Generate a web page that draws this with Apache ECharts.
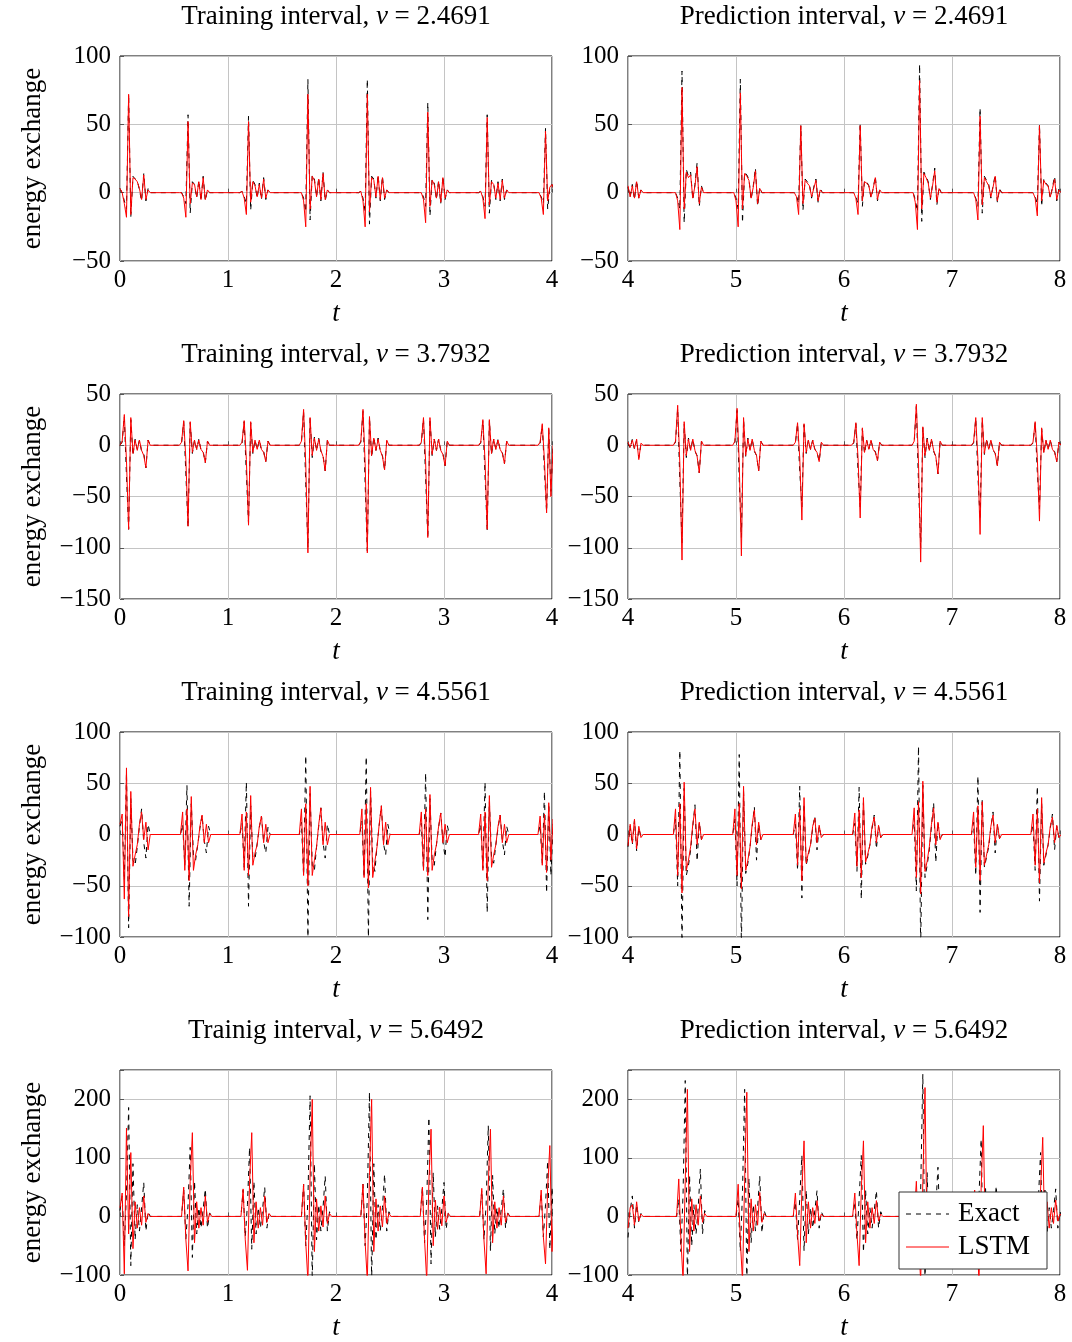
<!DOCTYPE html>
<html>
<head>
<meta charset="utf-8">
<script src="https://cdn.jsdelivr.net/npm/echarts@6/dist/echarts.min.js"></script>
<style>html,body{margin:0;padding:0;background:#fff}#c{width:1072px;height:1342px}</style>
</head>
<body>
<div id="c"></div>
<script>
// ---------- data ----------
const DT = 0.02; // sampling step of each burst
const nuValues = ['2.4691', '3.7932', '4.5561', '5.6492'];
const leftTitles = ['Training interval', 'Training interval', 'Training interval', 'Trainig interval'];
const rightTitle = 'Prediction interval';
const legendNames = ['Exact', 'LSTM'];
const yMins = [-50, -150, -100, -100];
const yMaxs = [100, 50, 100, 250];
const ySteps = [50, 50, 50, 100];
const xLeft = [0, 4];
const xRight = [4, 8];

// Panel 1: training, nu = 2.4691
const p1Start = [0.00, 0.55, 1.11, 1.66, 2.21, 2.77, 3.32, 3.86];
const p1Exact = [
  [3, 0, -6, -12, 72, -18, 12, 10, 9, 2, -6, 14, -6, 3, 0],
  [0, 0, -3, -8, 57, -15, 8, 6, -4, 9, -6, 12, -6, 2, 0],
  [0, 1, -3, -8, 56, -13, 9, 6, -4, 7, -5, 11, -5, 2, 0],
  [0, 0, -4, -14, 83, -20, 13, 10, -3, 11, -6, 15, -6, 2, 0],
  [0, 1, -4, -14, 83, -23, 12, 10, -4, 13, -6, 12, -5, 2, 0],
  [0, 0, -3, -10, 66, -17, 10, 7, -5, 9, -8, 12, -5, 2, 0],
  [0, 1, -3, -10, 57, -15, 9, 7, -5, 8, -6, 10, -5, 2, 0],
  [0, 0, -3, -8, 47, -12, 4, 6, 2, 0, 0, 0, 0, 0, 0]
];
const p1Lstm = [
  [3, 0, -8, -18, 72, -16, 11, 10, 8, 3, -5, 13, -5, 2, 0],
  [0, 0, -4, -18, 52, -8, 7, 6, -3, 8, -5, 11, -5, 2, 0],
  [0, 1, -4, -16, 52, -7, 8, 5, -3, 6, -4, 10, -4, 2, 0],
  [0, 0, -6, -25, 72, -12, 12, 9, -3, 10, -5, 14, -5, 2, 0],
  [0, 1, -6, -25, 72, -14, 11, 9, -3, 12, -5, 11, -4, 2, 0],
  [0, 0, -5, -22, 59, -10, 9, 6, -4, 8, -7, 11, -4, 2, 0],
  [0, 1, -4, -19, 55, -9, 8, 6, -4, 7, -5, 9, -4, 2, 0],
  [0, 0, -4, -16, 45, -6, 4, 6, 2, 0, 0, 0, 0, 0, 0]
];

// Panel 2: prediction, nu = 2.4691
const p2Start = [4.00, 4.42, 4.96, 5.52, 6.07, 6.62, 7.18, 7.73];
const p2Exact = [
  [4, -3, 6, -5, 9, -4, 2, 0],
  [0, 0, -4, -12, 89, -22, 17, 12, 15, -5, 6, 22, -10, 5, 0],
  [0, 0, -4, -12, 83, -22, 15, 13, 10, -5, 5, 18, -10, 4, 0],
  [0, 0, -2, -8, 49, -13, 10, 8, 6, -4, 4, 10, -7, 3, 0],
  [0, 0, -3, -8, 51, -10, 9, 8, 5, -4, 3, 12, -6, 2, 0],
  [0, 0, -5, -14, 94, -21, 15, 12, 8, -5, 6, 18, -9, 4, 0],
  [0, 0, -4, -10, 62, -15, 12, 9, 6, -4, 5, 13, -7, 3, 0],
  [0, 0, -3, -8, 50, -10, 10, 7, 5, -4, 4, 12, -6, 3, 0]
];
const p2Lstm = [
  [5, -3, 5, -4, 8, -4, 2, 0],
  [0, 0, -6, -27, 77, -12, 15, 11, 13, -4, 5, 19, -8, 4, 0],
  [0, 0, -6, -25, 73, -12, 14, 12, 9, -4, 4, 16, -8, 3, 0],
  [0, 0, -3, -16, 49, -8, 9, 7, 5, -3, 3, 9, -6, 2, 0],
  [0, 0, -4, -16, 49, -6, 8, 7, 5, -3, 3, 11, -5, 2, 0],
  [0, 0, -7, -27, 82, -12, 14, 11, 7, -4, 5, 16, -7, 3, 0],
  [0, 0, -5, -20, 56, -9, 11, 8, 5, -3, 4, 12, -6, 2, 0],
  [0, 0, -4, -17, 49, -6, 9, 6, 5, -3, 3, 10, -5, 2, 0]
];

// Panel 3: training, nu = 3.7932
const p3Start = [0.00, 0.55, 1.11, 1.66, 2.21, 2.77, 3.32, 3.87];
const p3Exact = [
  [0, 3, 28, -30, -82, 25, -10, 6, -4, 5, -6, -8, -22, 5, 0],
  [0, 2, 23, -28, -80, 22, -8, 5, -4, 6, -5, -6, -17, 4, 0],
  [0, 2, 23, -28, -76, 22, -8, 5, -4, 5, -5, -6, -16, 4, 0],
  [0, 3, 33, -38, -100, 26, -12, 8, -5, 7, -6, -10, -25, 5, 0],
  [0, 3, 33, -38, -103, 27, -12, 8, -5, 7, -6, -10, -24, 5, 0],
  [0, 2, 26, -32, -90, 26, -10, 6, -5, 6, -5, -8, -20, 4, 0],
  [0, 2, 24, -30, -83, 24, -9, 6, -4, 6, -5, -7, -18, 4, 0],
  [0, 2, 20, -25, -65, 16, -45, 0, 0, 0, 0, 0, 0, 0, 0]
];
const p3Lstm = [
  [0, 4, 30, -15, -82, 27, -8, 5, -5, 5, -5, -10, -22, 5, 0],
  [0, 3, 24, -14, -79, 23, -7, 5, -4, 5, -4, -7, -17, 4, 0],
  [0, 3, 24, -14, -78, 23, -7, 5, -4, 5, -4, -7, -16, 4, 0],
  [0, 4, 35, -18, -105, 27, -10, 7, -5, 6, -5, -11, -25, 5, 0],
  [0, 4, 35, -18, -105, 28, -10, 7, -5, 6, -5, -11, -24, 5, 0],
  [0, 3, 27, -16, -90, 27, -9, 6, -5, 6, -5, -9, -20, 4, 0],
  [0, 3, 25, -15, -82, 25, -8, 6, -4, 5, -4, -8, -18, 4, 0],
  [0, 3, 21, -15, -66, 17, -50, 0, 0, 0, 0, 0, 0, 0, 0]
];

// Panel 4: prediction, nu = 3.7932
const p4Start = [4.00, 4.42, 4.97, 5.53, 6.07, 6.63, 7.18, 7.73];
const p4Exact = [
  [2, -3, 6, -4, 5, -12, 1, 0],
  [0, 3, 36, -35, -95, 21, -12, 7, -5, 6, -6, -10, -27, 4, 0],
  [0, 3, 34, -33, -90, 25, -11, 7, -5, 6, -6, -10, -25, 4, 0],
  [0, 2, 21, -25, -60, 20, -8, 5, -4, 5, -4, -6, -16, 3, 0],
  [0, 2, 21, -25, -60, 16, -8, 5, -4, 5, -4, -6, -15, 3, 0],
  [0, 3, 38, -38, -100, 17, -12, 7, -5, 6, -6, -11, -28, 4, 0],
  [0, 2, 26, -30, -72, 25, -9, 6, -4, 5, -5, -8, -20, 3, 0],
  [0, 2, 22, -26, -62, 16, -8, 5, -4, 5, -4, -6, -16, 3, 0]
];
const p4Lstm = [
  [3, -2, 5, -3, 6, -14, 2, 0],
  [0, 4, 39, -18, -112, 23, -10, 6, -5, 6, -5, -11, -27, 4, 0],
  [0, 4, 36, -17, -108, 27, -10, 6, -5, 6, -5, -10, -25, 4, 0],
  [0, 3, 22, -12, -73, 21, -7, 5, -4, 5, -4, -7, -16, 3, 0],
  [0, 3, 22, -12, -71, 17, -7, 5, -4, 5, -4, -7, -15, 3, 0],
  [0, 4, 40, -18, -114, 18, -10, 6, -5, 6, -5, -11, -28, 4, 0],
  [0, 3, 27, -14, -87, 27, -8, 5, -4, 5, -4, -8, -20, 3, 0],
  [0, 3, 23, -12, -74, 17, -7, 5, -4, 5, -4, -7, -16, 3, 0]
];

// Panel 5: training, nu = 4.5561
const p5Start = [0.00, 0.56, 1.11, 1.66, 2.22, 2.77, 3.32, 3.87];
const p5Exact = [
  [8, 15, -45, 60, -91, 35, -25, -30, -12, 8, 25, -8, -23, 10, 0],
  [0, 10, -30, 48, -70, 30, -20, -25, -10, 6, 19, -6, -18, 8, 0],
  [0, 11, -32, 51, -70, 28, -22, -24, -9, 7, 18, -7, -18, 7, 0],
  [0, 12, -40, 77, -100, 40, -30, -35, -12, 8, 26, -8, -23, 10, 0],
  [0, 13, -42, 76, -100, 42, -28, -36, -11, 9, 28, -9, -20, 10, 0],
  [0, 11, -35, 60, -83, 35, -25, -30, -10, 7, 21, -7, -22, 9, 0],
  [0, 10, -33, 51, -76, 32, -22, -28, -10, 6, 19, -6, -20, 8, 0],
  [0, 9, -28, 42, -57, 30, -40, 10, 0, 0, 0, 0, 0, 0, 0]
];
const p5Lstm = [
  [10, 20, -63, 65, -80, 42, -31, -20, -10, 10, 22, -5, 12, -15, 0],
  [0, 22, -35, 25, -45, 37, -35, -20, -10, 8, 19, -8, 10, -8, 0],
  [0, 20, -35, 22, -40, 38, -30, -18, -10, 8, 18, -8, 10, -8, 0],
  [0, 25, -40, 30, -50, 47, -40, -25, -12, 10, 26, -10, 12, -10, 0],
  [0, 25, -42, 30, -52, 46, -42, -26, -12, 10, 28, -10, 12, -10, 0],
  [0, 22, -35, 25, -40, 39, -35, -20, -10, 8, 21, -8, 10, -8, 0],
  [0, 20, -35, 22, -45, 38, -32, -20, -10, 8, 19, -8, 10, -8, 0],
  [0, 18, -30, 20, -37, 31, -25, 15, 0, 0, 0, 0, 0, 0, 0]
];

// Panel 6: prediction, nu = 4.5561
const p6Start = [4.00, 4.42, 4.97, 5.53, 6.08, 6.63, 7.18, 7.73];
const p6Exact = [
  [-12, 8, -10, 14, -16, 6, -2, 0],
  [0, 15, -50, 82, -110, 45, -40, -30, -15, 8, 29, -26, 12, -5, 0],
  [0, 15, -50, 78, -110, 42, -38, -28, -12, 8, 27, -25, 10, -5, 0],
  [0, 10, -35, 47, -62, 30, -30, -20, -10, 6, 18, -15, 8, -3, 0],
  [0, 11, -36, 46, -63, 31, -29, -21, -10, 6, 19, -14, 8, -3, 0],
  [0, 16, -55, 86, -110, 48, -42, -30, -15, 8, 31, -27, 12, -5, 0],
  [0, 12, -40, 57, -76, 35, -32, -22, -12, 7, 22, -18, 9, -4, 0],
  [0, 10, -35, 47, -65, 30, -30, -20, -10, 6, 20, -15, 8, -3, 0]
];
const p6Lstm = [
  [-11, 10, -8, 15, -14, 8, -3, 0],
  [0, 25, -40, 30, -57, 51, -35, -25, -12, 10, 25, -10, 12, -5, 0],
  [0, 25, -40, 30, -53, 47, -35, -25, -12, 10, 24, -10, 12, -5, 0],
  [0, 20, -30, 25, -45, 36, -28, -18, -10, 8, 16, -8, 9, -3, 0],
  [0, 21, -31, 24, -42, 36, -27, -19, -10, 8, 17, -8, 9, -3, 0],
  [0, 26, -42, 32, -58, 52, -36, -26, -12, 10, 26, -10, 12, -5, 0],
  [0, 22, -32, 28, -45, 32, -30, -20, -10, 8, 19, -8, 10, -4, 0],
  [0, 20, -30, 25, -47, 36, -28, -18, -10, 8, 17, -8, 9, -3, 0]
];

// Panel 7: training, nu = 5.6492
const p7Start = [0.00, 0.57, 1.12, 1.68, 2.23, 2.78, 3.33, 3.88];
const p7Exact = [
  [10, 35, -50, 40, 186, -84, 90, -40, 20, -25, 15, 58, -25, 8, 0],
  [0, 45, -39, 20, 118, -70, 60, -30, 15, -20, 12, 47, -20, 6, 0],
  [0, 45, -35, 20, 118, -56, 60, -30, 15, -20, 12, 50, -20, 6, 0],
  [0, 55, -50, 30, 206, -110, 90, -40, 20, -25, 15, 69, -25, 8, 0],
  [0, 55, -50, 30, 212, -110, 90, -40, 20, -25, 15, 72, -25, 8, 0],
  [0, 50, -45, 25, 169, -81, 75, -35, 18, -22, 13, 58, -22, 7, 0],
  [0, 45, -40, 20, 155, -59, 70, -30, 15, -20, 12, 47, -20, 6, 0],
  [0, 40, -35, 20, 95, -56, 50, -40, 30, 0, 0, 0, 0, 0, 0]
];
const p7Lstm = [
  [15, 40, -98, 151, -30, 109, -55, 25, -20, 15, -15, 35, -10, 5, 0],
  [0, 50, -40, -93, 60, 143, -45, 25, -20, 15, -15, 35, -10, 5, 0],
  [0, 47, -40, -92, 60, 143, -45, 25, -20, 15, -15, 35, -10, 5, 0],
  [0, 55, -45, -110, 70, 200, -60, 30, -25, 18, -18, 35, -12, 5, 0],
  [0, 55, -45, -110, 70, 200, -60, 30, -25, 18, -18, 35, -12, 5, 0],
  [0, 50, -40, -110, 60, 149, -50, 28, -22, 16, -16, 35, -10, 5, 0],
  [0, 48, -40, -98, 55, 149, -45, 25, -20, 15, -15, 35, -10, 5, 0],
  [0, 45, -35, -81, 50, 121, -60, 32, 0, 0, 0, 0, 0, 0, 0]
];

// Panel 8: prediction, nu = 5.6492
const p8Start = [4.00, 4.45, 5.00, 5.53, 6.08, 6.65, 7.19, 7.74];
const p8Exact = [
  [-36, 10, 35, -20, 20, -10, 5, 0],
  [0, 30, -60, 40, 232, -110, 70, -50, 20, -30, 15, 81, -30, 10, 0],
  [0, 30, -60, 40, 217, -110, 65, -45, 20, -25, 15, 69, -28, 10, 0],
  [0, 25, -40, 30, 104, -59, 45, -30, 15, -20, 10, 44, -20, 8, 0],
  [0, 25, -40, 30, 104, -61, 45, -30, 15, -20, 10, 44, -20, 8, 0],
  [0, 32, -65, 45, 243, -110, 75, -50, 22, -30, 15, 84, -30, 10, 0],
  [0, 28, -50, 35, 132, -90, 50, -35, 18, -22, 12, 52, -22, 8, 0],
  [0, 25, -40, 30, 109, -60, 45, -30, 15, -20, 10, 47, -20, 8, 0]
];
const p8Lstm = [
  [-20, 15, 20, -15, 25, -8, 4, 0],
  [0, 64, -40, -110, 60, 217, -60, 30, -25, 20, -15, 35, -10, 5, 0],
  [0, 55, -40, -110, 60, 212, -60, 30, -25, 20, -15, 41, -10, 5, 0],
  [0, 40, -30, -84, 45, 129, -45, 25, -20, 15, -12, 27, -8, 4, 0],
  [0, 40, -30, -84, 45, 129, -45, 25, -20, 15, -12, 27, -8, 4, 0],
  [0, 60, -40, -110, 60, 220, -60, 30, -25, 20, -15, 38, -10, 5, 0],
  [0, 45, -35, -110, 50, 155, -50, 28, -22, 18, -13, 30, -8, 4, 0],
  [0, 40, -30, -60, 45, 135, -45, 25, -20, 15, -12, 28, -8, 4, 0]
];

// ---------- layout ----------
const FONT = '"Liberation Serif", "Times New Roman", serif';
const FS = 25;      // tick labels
const FS_T = 27;    // titles / axis names / legend
const GRID_LEFT = [120, 628];
const GRID_TOP = [56, 394, 732, 1070];
const GW = 432, GH = 205;

const panels = [
  [p1Start, p1Exact, p1Lstm], [p2Start, p2Exact, p2Lstm],
  [p3Start, p3Exact, p3Lstm], [p4Start, p4Exact, p4Lstm],
  [p5Start, p5Exact, p5Lstm], [p6Start, p6Exact, p6Lstm],
  [p7Start, p7Exact, p7Lstm], [p8Start, p8Exact, p8Lstm]
];

function toData(starts, bursts) {
  const out = [];
  bursts.forEach((vals, b) => {
    vals.forEach((v, i) => out.push([+(starts[b] + i * DT).toFixed(4), v]));
  });
  return out;
}
const minus = s => String(s).replace('-', '\u2212');
const DASH = [5, 5];

const grid = [], xAxis = [], yAxis = [], series = [], graphic = [];
for (let row = 0; row < 4; row++) {
  for (let col = 0; col < 2; col++) {
    const k = row * 2 + col;
    grid.push({
      left: GRID_LEFT[col], top: GRID_TOP[row], width: GW, height: GH,
      show: true, borderColor: '#000', borderWidth: 1, backgroundColor: 'transparent'
    });
    const xr = col === 0 ? xLeft : xRight;
    xAxis.push({
      type: 'value', gridIndex: k, min: xr[0], max: xr[1], interval: 1,
      axisLine: { show: false },
      axisTick: { show: true, inside: true, length: 4, lineStyle: { color: '#555' } },
      splitLine: { show: true, lineStyle: { color: '#c4c4c4', width: 1 } },
      axisLabel: { margin: 7, color: '#000', fontFamily: FONT, fontSize: FS, formatter: v => minus(v) }
    });
    yAxis.push({
      type: 'value', gridIndex: k, min: yMins[row], max: yMaxs[row], interval: ySteps[row],
      axisLine: { show: false },
      axisTick: { show: true, inside: true, length: 4, lineStyle: { color: '#555' } },
      splitLine: { show: true, lineStyle: { color: '#c4c4c4', width: 1 } },
      axisLabel: {
        margin: 9, color: '#000', fontFamily: FONT, fontSize: FS,
        formatter: v => ((v - yMins[row]) % ySteps[row] !== 0 ? '' : minus(v))
      }
    });
    const [st, ex, ls] = panels[k];
    series.push({
      name: legendNames[0], type: 'line', xAxisIndex: k, yAxisIndex: k,
      data: toData(st, ex), showSymbol: false, symbol: 'none', clip: true,
      lineStyle: { color: '#000', width: 1, type: DASH }, itemStyle: { color: '#000' },
      animation: false, z: 2
    });
    series.push({
      name: legendNames[1], type: 'line', xAxisIndex: k, yAxisIndex: k,
      data: toData(st, ls), showSymbol: false, symbol: 'none', clip: true,
      lineStyle: { color: '#ff0000', width: 1 }, itemStyle: { color: '#ff0000' },
      animation: false, z: 3
    });
    const cx = GRID_LEFT[col] + GW / 2;
    const ttl = col === 0 ? leftTitles[row] : rightTitle;
    graphic.push({
      type: 'text', x: cx, y: GRID_TOP[row] - 39,
      style: {
        text: '{n|' + ttl + ', }{i|\u03BD}{n| = ' + nuValues[row] + '}',
        align: 'center', verticalAlign: 'middle',
        rich: {
          n: { fontFamily: FONT, fontSize: FS_T, fill: '#000' },
          i: { fontFamily: FONT, fontSize: FS_T, fontStyle: 'italic', fill: '#000' }
        }
      }
    });
    graphic.push({
      type: 'text', x: cx, y: GRID_TOP[row] + GH + 53,
      style: { text: 't', fontFamily: FONT, fontSize: FS_T, fontStyle: 'italic', fill: '#000', align: 'center', verticalAlign: 'middle' }
    });
    if (col === 0) {
      graphic.push({
        type: 'text', x: 33, y: GRID_TOP[row] + GH / 2, rotation: Math.PI / 2,
        style: { text: 'energy exchange', fontFamily: FONT, fontSize: FS_T, fill: '#000', align: 'center', verticalAlign: 'middle' }
      });
    }
  }
}

// legend box (drawn as graphic so the line samples carry no markers)
const LX = 899, LY = 1192;
graphic.push({ type: 'rect', z: 100, shape: { x: LX, y: LY, width: 148, height: 77 }, style: { fill: '#fff', stroke: '#333', lineWidth: 1 } });
graphic.push({ type: 'line', z: 101, shape: { x1: LX + 7, y1: LY + 22, x2: LX + 50, y2: LY + 22 }, style: { stroke: '#000', lineWidth: 1, lineDash: DASH } });
graphic.push({ type: 'line', z: 101, shape: { x1: LX + 7, y1: LY + 55, x2: LX + 50, y2: LY + 55 }, style: { stroke: '#ff0000', lineWidth: 1 } });
graphic.push({ type: 'text', z: 101, x: LX + 59, y: LY + 22, style: { text: legendNames[0], fontFamily: FONT, fontSize: FS_T, fill: '#000', align: 'left', verticalAlign: 'middle' } });
graphic.push({ type: 'text', z: 101, x: LX + 59, y: LY + 55, style: { text: legendNames[1], fontFamily: FONT, fontSize: FS_T, fill: '#000', align: 'left', verticalAlign: 'middle' } });

const chart = echarts.init(document.getElementById('c'), null, { renderer: 'canvas' });
chart.setOption({
  animation: false,
  backgroundColor: '#fff',
  grid, xAxis, yAxis, series, graphic
});
</script>
</body>
</html>
